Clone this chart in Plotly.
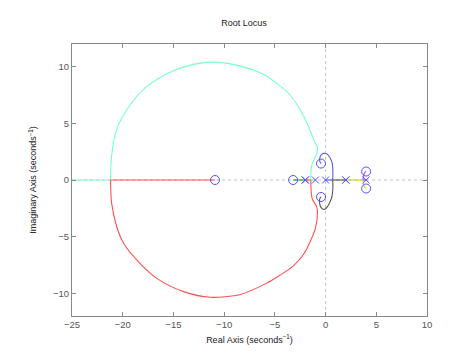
import plotly.graph_objects as go

# poles and zeros
pole_re = [0, -1, -2, -2, 2, 2, 4]
pole_im = [0, 0, 0, 0, 0, 0, 0]
zero_re = [-10.9, -3.2, -0.45, -0.45, 4, 4]
zero_im = [0, 0, 1.45, -1.5, 0.75, -0.75]

# real-axis pieces of the branches (start, end)
cyan_axis = [(-1.0, -1.45), (-21.2, -25)]
red_axis = [(-2.0, -1.45), (-21.2, -10.9)]
green_axis = [(-2.0, -3.2)]
blue_axis = [(0, 0.7)]
gray_axis = [(2.0, 0.7)]
yellow_axis = [(2.0, 3.7)]
purple_axis = [(4.0, 3.7)]

# off-axis curves
cyan_re = [-1.45, -1.45, -1.38, -1.15, -0.85, -0.8, -1.05, -1.7, -2.5, -3.5, -4.5,
           -6.1, -8.4, -11.0, -13.7, -16.0, -17.95, -19.6, -20.6, -21.1, -21.2]
cyan_im = [0, 0.6, 1.2, 1.8, 2.4, 2.9, 3.3, 4.75, 6.2, 7.5, 8.3,
           9.3, 10.05, 10.4, 10.05, 9.2, 8.0, 6.2, 4.45, 2.1, 0]

red_re = [-1.45, -1.42, -1.3, -0.9, -0.8, -1.0, -1.5, -2.2, -3.2, -4.5, -5.8,
          -8.4, -11.4, -14.0, -16.6, -18.3, -19.9, -20.6, -21.1, -21.2]
red_im = [0, -1.0, -1.7, -2.3, -2.8, -4.25, -5.4, -6.6, -7.6, -8.4, -9.1,
          -10.1, -10.35, -9.85, -8.7, -7.35, -5.6, -4.1, -2.0, 0]

blue_re = [0.7, 0.72, 0.65, 0.45, 0.15, -0.2, -0.45, -0.58, -0.55, -0.45]
blue_im = [0, 0.75, 1.5, 1.95, 2.3, 2.35, 2.2, 1.9, 1.6, 1.45]

gray_re = [0.7, 0.72, 0.62, 0.4, 0.1, -0.2, -0.5, -0.6, -0.55, -0.45]
gray_im = [0, -0.75, -1.5, -2.0, -2.45, -2.6, -2.35, -1.9, -1.6, -1.5]

yellow_re = [3.7, 3.72, 3.8, 3.9, 4.0]
yellow_im = [0, -0.3, -0.55, -0.7, -0.75]

purple_re = [3.7, 3.72, 3.8, 3.9, 4.0]
purple_im = [0, 0.3, 0.55, 0.7, 0.75]

branches = [
    (cyan_axis, cyan_re, cyan_im, "rgb(120,255,200)"),
    (red_axis, red_re, red_im, "rgb(255,80,80)"),
    (green_axis, [], [], "rgb(40,170,40)"),
    (blue_axis, blue_re, blue_im, "rgb(90,90,255)"),
    (gray_axis, gray_re, gray_im, "rgb(90,90,90)"),
    (yellow_axis, yellow_re, yellow_im, "rgb(190,220,50)"),
    (purple_axis, purple_re, purple_im, "rgb(190,70,230)"),
]

marker_blue = "rgb(80,80,255)"

fig = go.Figure()

# dotted axes through origin
fig.add_trace(go.Scatter(x=[-25, 10], y=[0, 0], mode="lines",
                         line=dict(color="#c4c4c4", width=1, dash="dot"), hoverinfo="skip"))
fig.add_trace(go.Scatter(x=[0, 0], y=[-12, 12], mode="lines",
                         line=dict(color="#c4c4c4", width=1, dash="dot"), hoverinfo="skip"))

for axis_parts, re, im, col in branches:
    for a, b in axis_parts:
        fig.add_trace(go.Scatter(x=[a, b], y=[0, 0], mode="lines",
                                 line=dict(color=col, width=1.2)))
    if re:
        fig.add_trace(go.Scatter(x=re, y=im, mode="lines",
                                 line=dict(color=col, width=1.1, shape="spline", smoothing=0.8)))

fig.add_trace(go.Scatter(x=pole_re, y=pole_im, mode="markers",
                         marker=dict(symbol="x-thin-open", size=7, color=marker_blue,
                                     line=dict(color=marker_blue, width=1))))
fig.add_trace(go.Scatter(x=zero_re, y=zero_im, mode="markers",
                         marker=dict(symbol="circle-open", size=9, color=marker_blue,
                                     line=dict(color=marker_blue, width=1))))

axis_common = dict(showgrid=False, zeroline=False, showline=True, linecolor="#888",
                   linewidth=1, mirror="allticks", ticks="inside", ticklen=4,
                   tickcolor="#888", tickfont=dict(size=9.5, color="#555"))

# the page body adds an 8px offset, so margins are trimmed by that much
fig.update_layout(
    width=472, height=355,
    margin=dict(l=64, r=53, t=36, b=47),
    paper_bgcolor="white", plot_bgcolor="white",
    showlegend=False,
    font=dict(family="Liberation Sans, Arial, sans-serif", size=9, color="#222"),
    title=dict(text="Root Locus", x=0.5, xanchor="center", y=0.958, yanchor="middle",
               font=dict(size=9, color="#222")),
    xaxis=dict(range=[-25, 10], tickvals=[-25, -20, -15, -10, -5, 0, 5, 10],
               title=dict(text="Real Axis (seconds<sup>−1</sup>)", standoff=7,
                          font=dict(size=9, color="#222")),
               **axis_common),
    yaxis=dict(range=[-12, 12], tickvals=[-10, -5, 0, 5, 10],
               title=dict(text="Imaginary Axis (seconds<sup>−1</sup>)", standoff=14,
                          font=dict(size=9, color="#222")),
               **axis_common),
)

fig.write_html("out.html")
